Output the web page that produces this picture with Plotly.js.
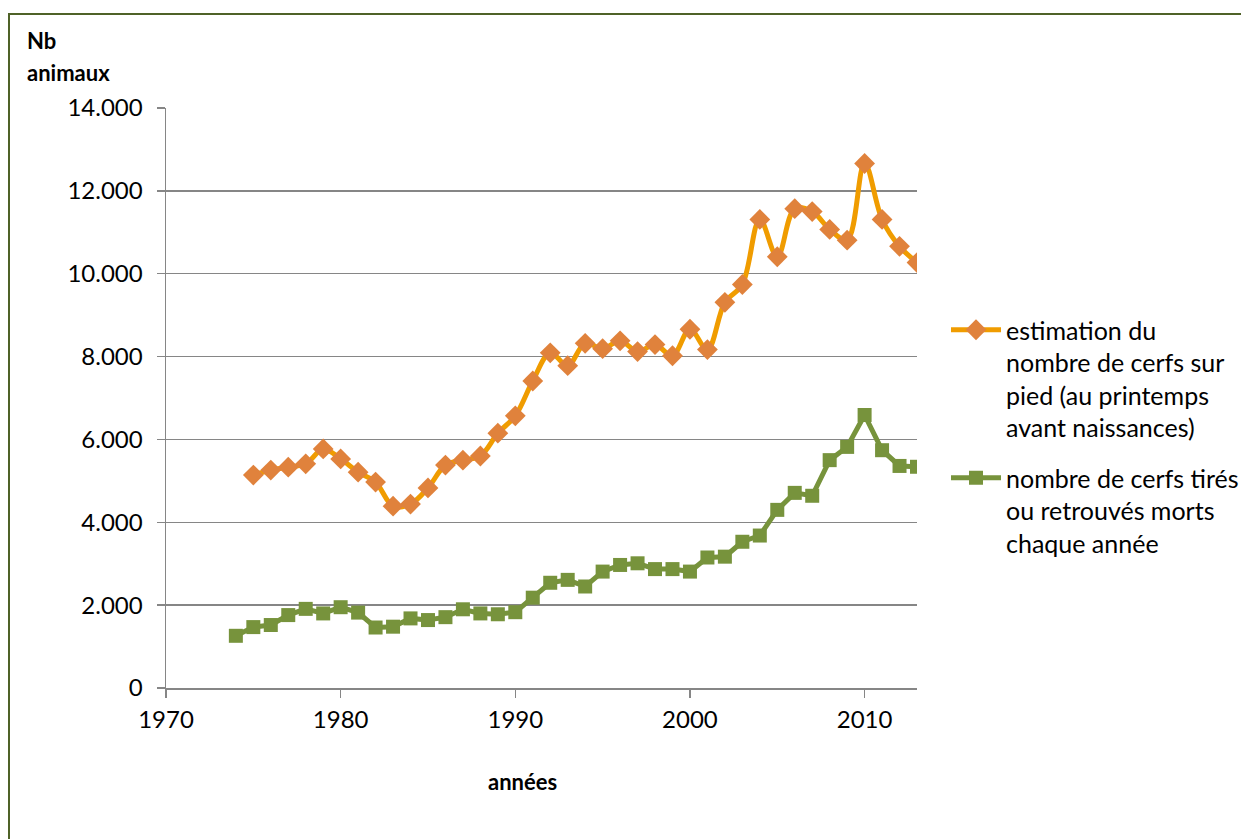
<!DOCTYPE html>
<html>
<head>
<meta charset="utf-8">
<script src="https://cdn.plot.ly/plotly-3.0.1.min.js"></script>
<style>
  html, body { margin: 0; padding: 0; background: #fff; overflow: hidden; }
  #chart { width: 1241px; height: 839px; }
  #frame { position: absolute; left: 8px; top: 13px; width: 1260px; height: 860px;
           border: 2px solid #4F6228; pointer-events: none; }
</style>
</head>
<body>
<div id="chart"></div>
<div id="frame"></div>
<script>
// Years
const yearsEstimation = [1975,1976,1977,1978,1979,1980,1981,1982,1983,1984,1985,1986,1987,1988,1989,1990,1991,1992,1993,1994,1995,1996,1997,1998,1999,2000,2001,2002,2003,2004,2005,2006,2007,2008,2009,2010,2011,2012,2013];
const estimation = [5140,5260,5330,5410,5770,5530,5210,4970,4390,4440,4830,5380,5500,5600,6150,6570,7410,8090,7780,8320,8190,8380,8120,8290,8020,8660,8170,9310,9740,11310,10410,11570,11500,11070,10810,12660,11310,10660,10270];

const yearsTires = [1974,1975,1976,1977,1978,1979,1980,1981,1982,1983,1984,1985,1986,1987,1988,1989,1990,1991,1992,1993,1994,1995,1996,1997,1998,1999,2000,2001,2002,2003,2004,2005,2006,2007,2008,2009,2010,2011,2012,2013];
const tires = [1260,1470,1520,1760,1910,1800,1950,1820,1460,1480,1680,1640,1710,1900,1800,1780,1830,2180,2540,2610,2450,2810,2970,3010,2870,2870,2810,3150,3170,3530,3680,4300,4710,4640,5500,5820,6590,5740,5360,5340];

const nameEstimation = "estimation du<br>nombre de cerfs sur<br>pied (au printemps<br>avant naissances)";
const nameTires = "nombre de cerfs tirés<br>ou retrouvés morts<br>chaque année";

const FONT = "Lato, 'Open Sans', sans-serif";

const traces = [
  {
    x: yearsEstimation, y: estimation, name: nameEstimation, legendgroup: "g1",
    type: "scatter", mode: "lines+markers",
    line: { color: "#F09C00", width: 5, shape: "spline", smoothing: 1 },
    marker: { symbol: "diamond", size: 16, color: "#E0823C", line: { width: 0 } }
  },
  {
    x: yearsTires, y: tires, name: nameTires, legendgroup: "g2",
    type: "scatter", mode: "lines+markers",
    line: { color: "#77933C", width: 5 },
    marker: { symbol: "square", size: 14, color: "#77933C", line: { width: 0 } }
  }
];

const layout = {
  width: 1241, height: 839,
  paper_bgcolor: "#ffffff", plot_bgcolor: "#ffffff",
  margin: { l: 166, r: 324, t: 108, b: 151 },
  separators: ",.",
  font: { family: FONT, size: 24, color: "#000" },
  showlegend: true,
  legend: {
    xref: "container", yref: "container",
    x: 946 / 1241, xanchor: "left", y: 1 - 307 / 839, yanchor: "top",
    font: { family: FONT, size: 25, color: "#000" },
    valign: "top", tracegroupgap: 15, itemwidth: 50,
    bgcolor: "rgba(0,0,0,0)"
  },
  xaxis: {
    range: [1970, 2013], dtick: 10, tick0: 1970,
    showgrid: false, zeroline: false,
    showline: true, linecolor: "#868686", linewidth: 1.5,
    ticks: "outside", ticklen: 8, tickcolor: "#868686", tickwidth: 1.5,
    ticklabelstandoff: 2,
    tickfont: { family: FONT, size: 24, color: "#000" }
  },
  yaxis: {
    range: [0, 14000], dtick: 2000, tickformat: ",d",
    showgrid: true, gridcolor: "#868686", gridwidth: 1.5,
    zeroline: false,
    showline: true, linecolor: "#868686", linewidth: 1.5,
    ticks: "outside", ticklen: 8, tickcolor: "#868686", tickwidth: 1.5,
    ticklabelstandoff: 9,
    tickfont: { family: FONT, size: 24, color: "#000" }
  },
  annotations: [
    { text: "<b>Nb</b>", xref: "paper", yref: "paper",
      x: -0.188, xanchor: "left", y: (688 - 40) / 580, yanchor: "middle", align: "left",
      showarrow: false, font: { family: FONT, size: 22, color: "#000" } },
    { text: "<b>animaux</b>", xref: "paper", yref: "paper",
      x: -0.188, xanchor: "left", y: (688 - 72) / 580, yanchor: "middle", align: "left",
      showarrow: false, font: { family: FONT, size: 22, color: "#000" } },
    { text: "<b>années</b>", xref: "paper", yref: "paper",
      x: 0.475, xanchor: "center", y: -0.162, yanchor: "middle",
      showarrow: false, font: { family: FONT, size: 22, color: "#000" } }
  ]
};

Plotly.newPlot("chart", traces, layout, { displayModeBar: false, staticPlot: true });
</script>
</body>
</html>
